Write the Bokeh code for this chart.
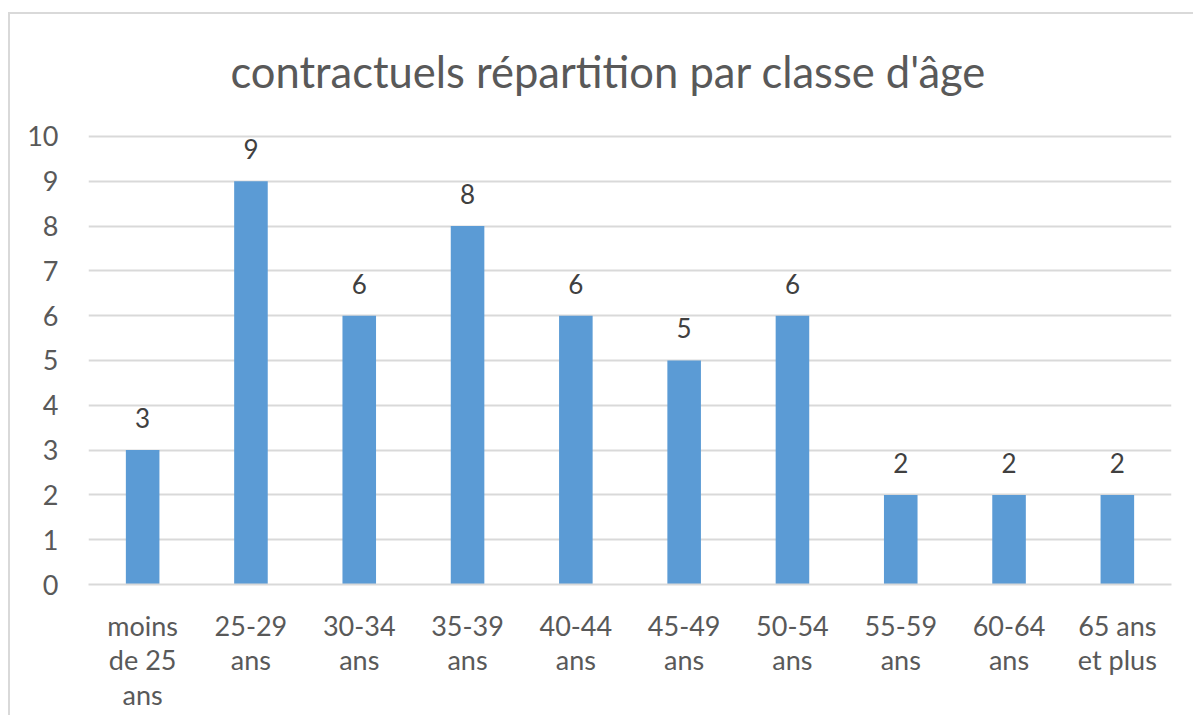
from bokeh.plotting import figure
from bokeh.models import ColumnDataSource, Range1d, FixedTicker, LabelSet, Label
from bokeh.core.properties import value
from bokeh.embed import file_html
from bokeh.resources import INLINE

categories = ["moins\nde 25\nans", "25-29\nans", "30-34\nans", "35-39\nans", "40-44\nans",
              "45-49\nans", "50-54\nans", "55-59\nans", "60-64\nans", "65 ans\net plus"]
values = [3, 9, 6, 8, 6, 5, 6, 2, 2, 2]
y_ticks = [0, 1, 2, 3, 4, 5, 6, 7, 8, 9, 10]
title_text = "contractuels répartition par classe d'âge"

FONT = "Lato"

# layout: the plot frame reaches up to the chart top so the title can sit inside it
Y_TOP = 12.72        # frame top (axis ticks still stop at 10)
TITLE_Y = 11.47      # vertical title position
TITLE_X = 4.8        # horizontal title position (category units)

src = ColumnDataSource(dict(cat=categories, val=values, lab=[str(v) for v in values]))

p = figure(x_range=categories, y_range=Range1d(0, Y_TOP), width=1185, height=703,
           output_backend="svg", toolbar_location=None,
           min_border_left=78, min_border_right=24, min_border_top=0, min_border_bottom=133)
p.title = None

p.vbar(x="cat", top="val", width=0.31, source=src, color="#5b9bd5", line_color=None)
p.add_layout(LabelSet(x="cat", y="val", text="lab", source=src, y_offset=22,
                      text_align="center", text_baseline="alphabetic",
                      text_font=value(FONT), text_font_size="26px", text_color="#404040"))

p.add_layout(Label(x=TITLE_X, y=TITLE_Y, text=title_text,
                   text_align="center", text_baseline="middle", text_font=FONT,
                   text_font_size="43.5px", text_color="#595959"))

p.outline_line_color = None
p.background_fill_color = "white"
p.border_fill_color = "white"

p.xgrid.grid_line_color = None
p.ygrid.grid_line_color = "#d9d9d9"
p.ygrid.grid_line_width = 2
p.yaxis.ticker = FixedTicker(ticks=y_ticks)

p.yaxis.axis_line_color = None
p.yaxis.major_tick_line_color = None
p.yaxis.major_tick_out = 0
p.yaxis.minor_tick_line_color = None
p.yaxis.major_label_standoff = 30
p.yaxis.major_label_text_font = FONT
p.yaxis.major_label_text_font_size = "27px"
p.yaxis.major_label_text_color = "#595959"

p.xaxis.axis_line_color = "#d9d9d9"
p.xaxis.axis_line_width = 2
p.xaxis.major_tick_line_color = None
p.xaxis.major_tick_out = 0
p.xaxis.minor_tick_line_color = None
p.xaxis.major_label_standoff = 24
p.xaxis.major_label_text_font = FONT
p.xaxis.major_label_text_font_size = "27px"
p.xaxis.major_label_text_color = "#595959"
p.xaxis.major_label_text_line_height = 1.05

p.styles = {"border-left": "2px solid #d9d9d9", "border-top": "2px solid #d9d9d9",
            "margin-top": "12px", "margin-left": "8px"}

open("out.html", "w").write(file_html(p, INLINE))
